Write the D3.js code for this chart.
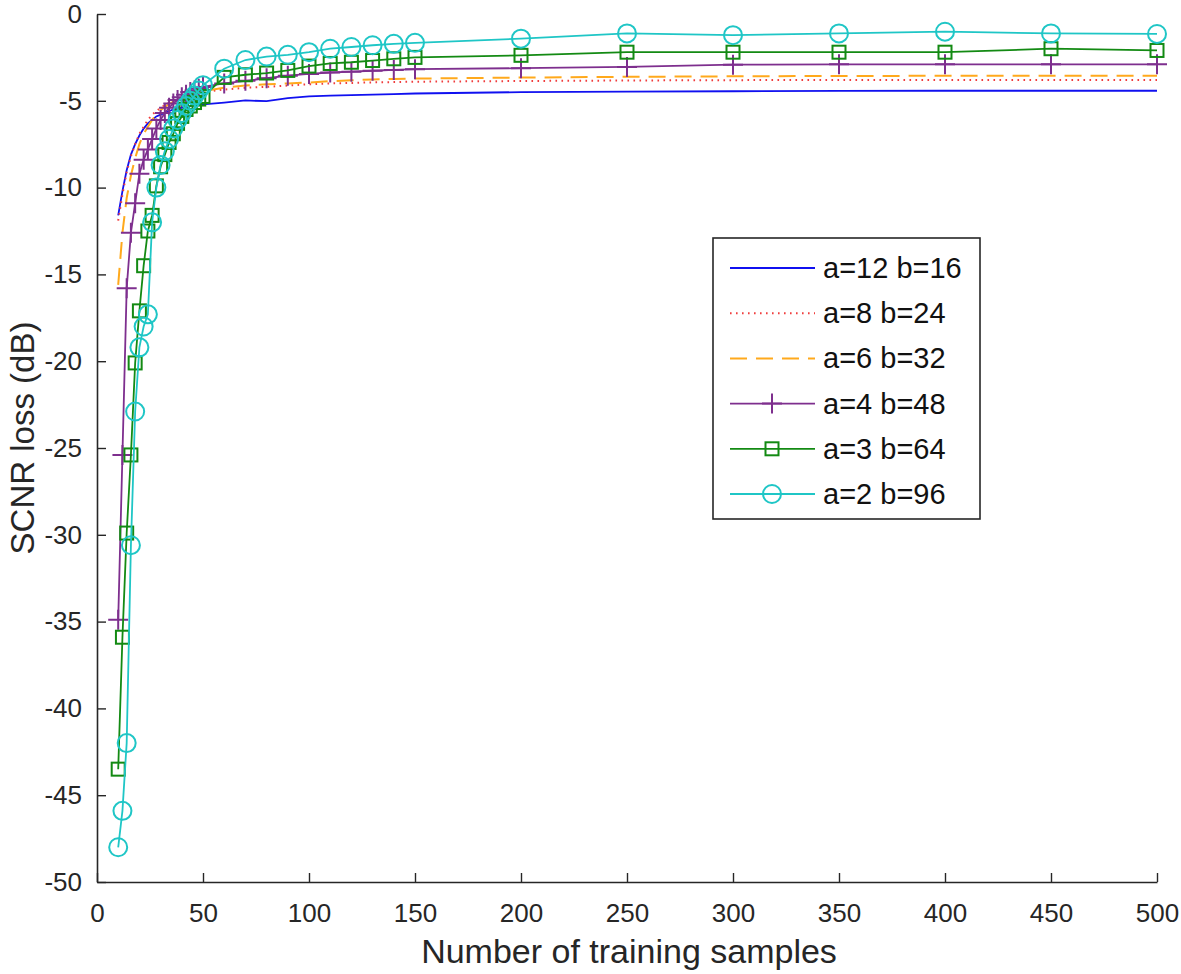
<!DOCTYPE html>
<html>
<head>
<meta charset="utf-8">
<script src="https://cdn.jsdelivr.net/npm/d3@7"></script>
<style>
  body { margin: 0; background: #fff; }
  svg { font-family: "Liberation Sans", Arial, sans-serif; }
</style>
</head>
<body>
<svg id="chart" width="1181" height="974"></svg>
<script>
// number of training samples (x)
const samples = [10, 12, 14, 16, 18, 20, 22, 24, 26, 28, 30, 32, 34, 36, 38, 40, 42, 44, 46, 48, 50,
  60, 70, 80, 90, 100, 110, 120, 130, 140, 150, 200, 250, 300, 350, 400, 450, 500];

// SCNR loss (dB) per configuration
const lossA12 = [-11.6, -10.2, -9.0, -8.1, -7.5, -7.0, -6.6, -6.3, -6.1, -5.9, -5.8, -5.7, -5.6, -5.5, -5.45, -5.4, -5.35, -5.3, -5.25, -5.2, -5.2,
  -5.1, -4.98, -5.02, -4.85, -4.75, -4.7, -4.67, -4.64, -4.61, -4.58, -4.5, -4.47, -4.45, -4.43, -4.42, -4.42, -4.42];
const lossA8 = [-11.9, -10.4, -9.1, -8.2, -7.5, -6.9, -6.5, -6.1, -5.8, -5.6, -5.4, -5.25, -5.1, -5.0, -4.9, -4.8, -4.72, -4.65, -4.6, -4.55, -4.5,
  -4.35, -4.25, -4.2, -4.12, -4.05, -4.0, -3.97, -3.94, -3.92, -3.9, -3.86, -3.83, -3.81, -3.8, -3.8, -3.8, -3.8];
const lossA6 = [-15.6, -12.6, -10.6, -9.3, -8.3, -7.5, -6.9, -6.5, -6.1, -5.8, -5.55, -5.35, -5.2, -5.05, -4.95, -4.85, -4.75, -4.65, -4.58, -4.5, -4.45,
  -4.25, -4.12, -4.05, -4.0, -3.95, -3.87, -3.82, -3.77, -3.74, -3.72, -3.66, -3.62, -3.59, -3.57, -3.56, -3.55, -3.55];
const lossA4 = [-34.9, -25.4, -15.8, -12.6, -10.9, -9.2, -8.4, -7.8, -7.2, -6.6, -6.1, -5.7, -5.4, -5.15, -4.95, -4.8, -4.65, -4.5, -4.4, -4.3, -4.2,
  -4.0, -3.85, -3.7, -3.55, -3.45, -3.37, -3.32, -3.27, -3.22, -3.18, -3.12, -3.05, -2.92, -2.9, -2.9, -2.9, -2.9];
const lossA3 = [-43.5, -35.9, -29.9, -25.4, -20.1, -17.1, -14.5, -12.5, -11.6, -9.9, -8.8, -8.1, -7.4, -6.9, -6.3, -5.9, -5.5, -5.3, -5.1, -4.9, -4.75,
  -3.65, -3.5, -3.4, -3.25, -3.0, -2.85, -2.78, -2.68, -2.58, -2.5, -2.38, -2.2, -2.2, -2.2, -2.2, -2.0, -2.1];
const lossA2 = [-48.0, -45.9, -42.0, -30.6, -22.9, -19.2, -18.0, -17.3, -12.0, -10.0, -8.7, -7.9, -7.2, -6.6, -6.1, -5.7, -5.3, -5.0, -4.7, -4.4, -4.1,
  -3.15, -2.65, -2.45, -2.35, -2.2, -2.0, -1.9, -1.8, -1.72, -1.66, -1.42, -1.12, -1.22, -1.12, -1.02, -1.12, -1.15];

const seriesNames = ['a=12 b=16', 'a=8 b=24', 'a=6 b=32', 'a=4 b=48', 'a=3 b=64', 'a=2 b=96'];
const xTicks = [0, 50, 100, 150, 200, 250, 300, 350, 400, 450, 500];
const yTicks = [0, -5, -10, -15, -20, -25, -30, -35, -40, -45, -50];

const series = [
  { name: seriesNames[0], values: lossA12, color: '#1010f0', dash: null, marker: null },
  { name: seriesNames[1], values: lossA8, color: '#f03c3c', dash: '1.6,4.4', marker: null },
  { name: seriesNames[2], values: lossA6, color: '#ffa91c', dash: '17,9', marker: null },
  { name: seriesNames[3], values: lossA4, color: '#7e2f8e', dash: null, marker: 'plus' },
  { name: seriesNames[4], values: lossA3, color: '#138a13', dash: null, marker: 'square' },
  { name: seriesNames[5], values: lossA2, color: '#1fc6c6', dash: null, marker: 'circle' }
];

const svg = d3.select('#chart');

const x = d3.scaleLinear().domain([0, 500]).range([97, 1157]);
const y = d3.scaleLinear().domain([-50, 0]).range([882, 14]);

// axes, ticks pointing inward like matlab; plain hyphen for minus
const xAxis = svg.append('g')
  .attr('transform', 'translate(0,882)')
  .call(d3.axisBottom(x).tickValues(xTicks).tickFormat(d => String(d))
    .tickSizeInner(-9).tickSizeOuter(0).tickPadding(22));
const yAxis = svg.append('g')
  .attr('transform', 'translate(97,0)')
  .call(d3.axisLeft(y).tickValues(yTicks).tickFormat(d => String(d))
    .tickSizeInner(-9).tickSizeOuter(0).tickPadding(15));

[xAxis, yAxis].forEach(function(g) {
  g.select('.domain').attr('stroke', '#262626').attr('stroke-width', 1.6);
  g.selectAll('.tick line').attr('stroke', '#262626').attr('stroke-width', 1.4);
  g.selectAll('.tick text').attr('fill', '#262626').style('font-size', '26px');
});

svg.append('text')
  .attr('x', 629).attr('y', 963)
  .attr('text-anchor', 'middle')
  .attr('fill', '#262626')
  .style('font-size', '34px')
  .text('Number of training samples');

svg.append('text')
  .attr('transform', 'translate(34,438) rotate(-90)')
  .attr('text-anchor', 'middle')
  .attr('fill', '#262626')
  .style('font-size', '33px')
  .text('SCNR loss (dB)');

function drawMarker(g, type, cx, cy, color) {
  if (type === 'plus') {
    g.append('path')
      .attr('d', `M${cx - 10},${cy}H${cx + 10}M${cx},${cy - 10}V${cy + 10}`)
      .attr('stroke', color).attr('stroke-width', 2).attr('fill', 'none');
  } else if (type === 'square') {
    g.append('rect')
      .attr('x', cx - 6.5).attr('y', cy - 6.5).attr('width', 13).attr('height', 13)
      .attr('stroke', color).attr('stroke-width', 2).attr('fill', 'none');
  } else if (type === 'circle') {
    g.append('circle')
      .attr('cx', cx).attr('cy', cy).attr('r', 9)
      .attr('stroke', color).attr('stroke-width', 2).attr('fill', 'none');
  }
}

const line = d3.line()
  .x(d => x(d[0]))
  .y(d => y(d[1]));

const plot = svg.append('g');

series.forEach(function(s) {
  const pts = samples.map((v, i) => [v, s.values[i]]);
  const g = plot.append('g');
  g.append('path')
    .datum(pts)
    .attr('d', line)
    .attr('fill', 'none')
    .attr('stroke', s.color)
    .attr('stroke-width', s.dash ? 2 : 1.8)
    .attr('stroke-dasharray', s.dash);
  if (s.marker) {
    pts.forEach(p => drawMarker(g, s.marker, x(p[0]), y(p[1]), s.color));
  }
});

// legend
const legend = svg.append('g');
legend.append('rect')
  .attr('x', 713).attr('y', 238).attr('width', 267).attr('height', 281)
  .attr('fill', '#fff').attr('stroke', '#262626').attr('stroke-width', 1.6);

series.forEach(function(s, i) {
  const ly = 268 + i * 45.2;
  legend.append('line')
    .attr('x1', 730).attr('x2', 815).attr('y1', ly).attr('y2', ly)
    .attr('stroke', s.color)
    .attr('stroke-width', s.dash ? 2 : 1.8)
    .attr('stroke-dasharray', s.dash);
  if (s.marker) drawMarker(legend, s.marker, 772, ly, s.color);
  legend.append('text')
    .attr('x', 823).attr('y', ly + 10)
    .attr('fill', '#111')
    .style('font-size', '29px')
    .text(s.name);
});
</script>
</body>
</html>
